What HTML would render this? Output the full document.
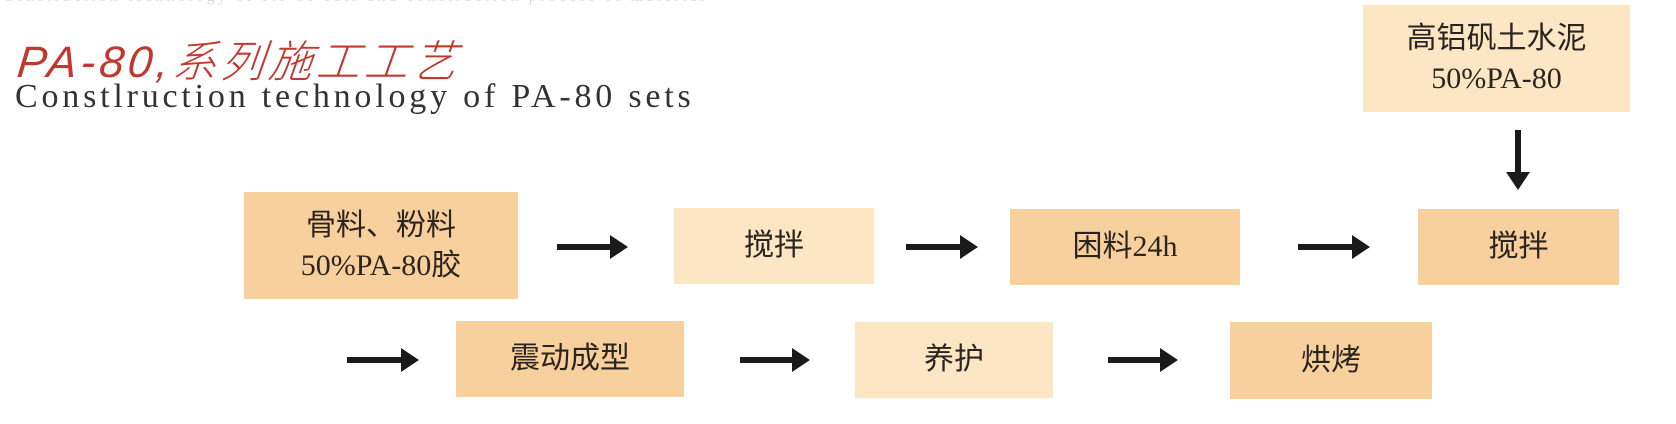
<!DOCTYPE html>
<html><head><meta charset="utf-8"><style>
body{margin:0;width:1676px;height:424px;background:#fff;position:relative;overflow:hidden;font-family:"Liberation Sans","Noto Sans CJK SC",sans-serif;}
.b{position:absolute;display:flex;align-items:center;justify-content:center;text-align:center;color:#2b2520;font-size:30px;line-height:40px;font-family:"Liberation Serif","Noto Sans CJK SC",serif;}
.d{background:#f8d09e;}
.l{background:#fde6c4;}
.t{position:absolute;white-space:nowrap;}
svg{position:absolute;left:0;top:0;}
</style></head><body>
<div class="t" style="left:2px;top:-12px;font-size:16px;color:#ddd;font-family:'Liberation Serif',serif;letter-spacing:3px">Construction technology of PA-80 sets and construction process of material</div>
<div class="t" style="left:18px;top:26px;font-size:44px;color:#c0392f;font-style:italic;font-family:'Liberation Sans','Noto Sans CJK SC',sans-serif;transform:skewX(-6deg);letter-spacing:4px;font-weight:300">PA-80,系列施工工艺</div>
<div class="t" style="left:15px;top:78px;font-size:34px;color:#333;font-family:'Liberation Serif',serif;letter-spacing:3.8px">Constlruction technology of PA-80 sets</div>

<div class="b d" style="left:244px;top:192px;width:274px;height:107px">骨料、粉料<br>50%PA-80胶</div>
<div class="b l" style="left:674px;top:208px;width:200px;height:76px">搅拌</div>
<div class="b d" style="left:1010px;top:209px;width:230px;height:76px">困料24h</div>
<div class="b d" style="left:1418px;top:209px;width:201px;height:76px">搅拌</div>
<div class="b l" style="left:1363px;top:5px;width:267px;height:107px">高铝矾土水泥<br>50%PA-80</div>
<div class="b d" style="left:456px;top:321px;width:228px;height:76px">震动成型</div>
<div class="b l" style="left:855px;top:322px;width:198px;height:76px">养护</div>
<div class="b d" style="left:1230px;top:322px;width:202px;height:77px">烘烤</div>

<svg width="1676" height="424">
<defs><marker id="a" markerWidth="4" markerHeight="4" refX="0" refY="2" orient="auto" markerUnits="strokeWidth"><path d="M0,0 L3,2 L0,4 z" fill="#1a1a1a"/></marker></defs>
<g stroke="#1a1a1a" stroke-width="6" fill="none">
<line x1="557" y1="247" x2="610" y2="247" marker-end="url(#a)"/>
<line x1="906" y1="247" x2="960" y2="247" marker-end="url(#a)"/>
<line x1="1298" y1="247" x2="1352" y2="247" marker-end="url(#a)"/>
<line x1="1518" y1="130" x2="1518" y2="172" marker-end="url(#a)"/>
<line x1="347" y1="360" x2="401" y2="360" marker-end="url(#a)"/>
<line x1="740" y1="360" x2="792" y2="360" marker-end="url(#a)"/>
<line x1="1108" y1="360" x2="1160" y2="360" marker-end="url(#a)"/>
</g>
</svg>
</body></html>
